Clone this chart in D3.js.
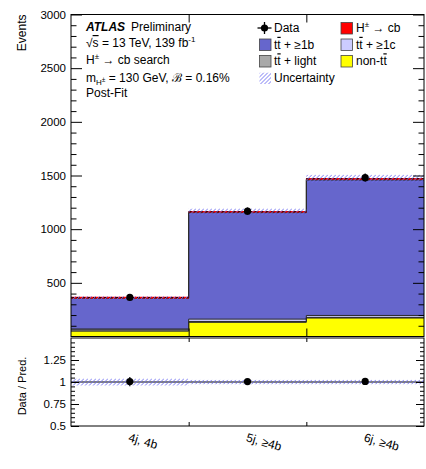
<!DOCTYPE html>
<html>
<head>
<meta charset="utf-8">
<script src="https://cdn.jsdelivr.net/npm/d3@7"></script>
<style>
  html, body { margin: 0; padding: 0; background: #fff; }
  svg { display: block; font-family: "Liberation Sans", Arial, sans-serif; }
</style>
</head>
<body>
<svg id="chart" width="426" height="469"></svg>
<script>
// Analysis regions
const categories = ["4j, 4b", "5j, \u22654b", "6j, \u22654b"];

// Post-fit yields per region (stacked bottom to top)
const nonTT   = [50, 132, 172];
const ttLight = [12, 8, 6];
const tt1c    = [8, 22, 18];
const tt1b    = [287, 992, 1262];
const hcb     = [5, 8, 12];

// Total prediction uncertainty and observed data
const uncertainty = [14, 30, 38];
const dataObs     = [364, 1168, 1480];

// Axis tick values
const mainTicks  = [500, 1000, 1500, 2000, 2500, 3000];
const ratioTicks = [0.5, 0.75, 1, 1.25];
const ratioTickLabels = ["0.5", "0.75", "1", "1.25"];

const svg = d3.select("#chart");

const left = 71, right = 424;
const mainTop = 14.5, mainBottom = 336.5;
const ratioTop = 338, ratioBottom = 426;

const xEdge = d3.scaleLinear().domain([0, categories.length]).range([left, right]);
const yMain = d3.scaleLinear().domain([0, 3000]).range([mainBottom, mainTop]);
const yRatio = d3.scaleLinear().domain([0.5, 1.5]).range([ratioBottom, ratioTop]);

const defs = svg.append("defs");
defs.append("clipPath").attr("id", "mainClip").append("rect")
  .attr("x", left).attr("y", mainTop).attr("width", right - left).attr("height", mainBottom - mainTop);

// diagonal hatching inside a rectangle, drawn as clipped line segments
let hatchId = 0;
const hatchColor = "#6e6ef2";
function hatchRect(g, x, y, w, h) {
  const id = "hclip" + (hatchId++);
  defs.append("clipPath").attr("id", id).append("rect")
    .attr("x", x).attr("y", y).attr("width", w).attr("height", h);
  const step = 4;
  const offsets = d3.range(Math.floor(x / step) * step, x + w + h + step, step);
  g.append("g").attr("clip-path", `url(#${id})`)
    .selectAll("line").data(offsets).join("line")
    .attr("x1", d => d - (h + 1)).attr("y1", y + h + 1)
    .attr("x2", d => d).attr("y2", y)
    .attr("stroke", hatchColor).attr("stroke-width", 0.9);
}

// stacked components, bottom to top
const layers = [
  { key: "nonTT", values: nonTT, color: "#ffff00" },
  { key: "ttLight", values: ttLight, color: "#a9a9a9" },
  { key: "tt1c", values: tt1c, color: "#ccccff" },
  { key: "tt1b", values: tt1b, color: "#6666cc" },
  { key: "hcb", values: hcb, color: "#ff0000" }
];
const cumul = [];
layers.forEach((l, i) => {
  cumul.push(l.values.map((v, j) => v + (i ? cumul[i - 1][j] : 0)));
});
const total = cumul[cumul.length - 1];

// step-shaped outline through bin edges
function stepPoints(vals, yScale) {
  const pts = [];
  vals.forEach((v, j) => {
    pts.push([xEdge(j), yScale(v)]);
    pts.push([xEdge(j + 1), yScale(v)]);
  });
  return pts;
}
const line = d3.line();
const binCenter = j => (xEdge(j) + xEdge(j + 1)) / 2;

const main = svg.append("g").attr("clip-path", "url(#mainClip)");

// draw cumulative areas from the top layer down
for (let i = layers.length - 1; i >= 0; i--) {
  const pts = stepPoints(cumul[i], yMain);
  const area = [[xEdge(0), yMain(0)], ...pts, [xEdge(categories.length), yMain(0)]];
  main.append("path")
    .attr("d", line(area) + "Z")
    .attr("fill", layers[i].color)
    .attr("stroke", "none");
}
// outlines of each component
for (let i = 0; i < layers.length - 1; i++) {
  main.append("path")
    .attr("d", line(stepPoints(cumul[i], yMain)))
    .attr("fill", "none").attr("stroke", "#2a2a2a").attr("stroke-width", 1);
}
// vertical edge of the full stack between regions
main.append("path")
  .attr("d", line(stepPoints(total, yMain)))
  .attr("fill", "none").attr("stroke", "#2a2a2a").attr("stroke-width", 1);

// signal band (thin red) and dashed total, per region
total.forEach((v, j) => {
  main.append("line")
    .attr("x1", xEdge(j)).attr("x2", xEdge(j + 1))
    .attr("y1", yMain(v)).attr("y2", yMain(v))
    .attr("stroke", "#ff0000").attr("stroke-width", 1.6);
  main.append("line")
    .attr("x1", xEdge(j)).attr("x2", xEdge(j + 1))
    .attr("y1", yMain(v)).attr("y2", yMain(v))
    .attr("stroke", "#000").attr("stroke-width", 0.9)
    .attr("stroke-dasharray", "3,2.5");
});

// uncertainty band
total.forEach((d, j) => {
  const y0 = yMain(d + uncertainty[j]), y1 = yMain(d - uncertainty[j]);
  hatchRect(main, xEdge(j), y0, xEdge(j + 1) - xEdge(j), y1 - y0);
});

// data points
dataObs.forEach((d, j) => {
  const e = Math.sqrt(d);
  main.append("line")
    .attr("x1", binCenter(j)).attr("x2", binCenter(j))
    .attr("y1", yMain(d - e)).attr("y2", yMain(d + e))
    .attr("stroke", "#000").attr("stroke-width", 1.2);
  main.append("circle")
    .attr("cx", binCenter(j)).attr("cy", yMain(d)).attr("r", 3.6).attr("fill", "#000");
});

// ratio panel
const ratio = svg.append("g");
ratio.append("line")
  .attr("x1", left).attr("x2", right)
  .attr("y1", yRatio(1)).attr("y2", yRatio(1))
  .attr("stroke", "#000").attr("stroke-width", 1.2);
total.forEach((d, j) => {
  const y0 = yRatio(1 + uncertainty[j] / d), y1 = yRatio(1 - uncertainty[j] / d);
  hatchRect(ratio, xEdge(j), y0, xEdge(j + 1) - xEdge(j), y1 - y0);
});
dataObs.forEach((d, j) => {
  const r = d / total[j];
  const e = Math.sqrt(d) / total[j];
  ratio.append("line")
    .attr("x1", binCenter(j)).attr("x2", binCenter(j))
    .attr("y1", yRatio(r - e)).attr("y2", yRatio(r + e))
    .attr("stroke", "#000").attr("stroke-width", 1.2);
  ratio.append("circle")
    .attr("cx", binCenter(j)).attr("cy", yRatio(r)).attr("r", 3.6).attr("fill", "#000");
});

// frames
[[mainTop, mainBottom], [ratioTop, ratioBottom]].forEach(([t, b]) => {
  svg.append("rect")
    .attr("x", left).attr("y", t).attr("width", right - left).attr("height", b - t)
    .attr("fill", "none").attr("stroke", "#000").attr("stroke-width", 1);
});

// axes
function styleAxis(g) {
  g.select(".domain").remove();
  g.selectAll(".tick line").attr("stroke", "#000").attr("stroke-width", 1);
  g.selectAll(".tick text").attr("font-size", "11.5px").attr("fill", "#000")
    .attr("font-family", "Liberation Sans, Arial, sans-serif");
}
const minorMain = d3.range(100, 3000, 100).filter(v => v % 500 !== 0);

svg.append("g").attr("transform", `translate(${left},0)`)
  .call(d3.axisLeft(yMain).tickValues(mainTicks).tickSize(-11).tickPadding(5).tickFormat(d3.format("d")))
  .call(styleAxis);
svg.append("g").attr("transform", `translate(${left},0)`)
  .call(d3.axisLeft(yMain).tickValues(minorMain).tickSize(-5.5).tickFormat(""))
  .call(styleAxis);
svg.append("g").attr("transform", `translate(${right},0)`)
  .call(d3.axisRight(yMain).tickValues(mainTicks).tickSize(-11).tickFormat(""))
  .call(styleAxis);
svg.append("g").attr("transform", `translate(${right},0)`)
  .call(d3.axisRight(yMain).tickValues(minorMain).tickSize(-5.5).tickFormat(""))
  .call(styleAxis);

const minorRatio = d3.range(0.55, 1.5, 0.05).filter(v => Math.abs(v * 4 - Math.round(v * 4)) > 1e-6);
svg.append("g").attr("transform", `translate(${left},0)`)
  .call(d3.axisLeft(yRatio).tickValues(ratioTicks).tickSize(-8).tickPadding(5)
    .tickFormat((d, i) => ratioTickLabels[i]))
  .call(styleAxis);
svg.append("g").attr("transform", `translate(${left},0)`)
  .call(d3.axisLeft(yRatio).tickValues(minorRatio).tickSize(-4).tickFormat(""))
  .call(styleAxis);
svg.append("g").attr("transform", `translate(${right},0)`)
  .call(d3.axisRight(yRatio).tickValues(ratioTicks).tickSize(-8).tickFormat(""))
  .call(styleAxis);
svg.append("g").attr("transform", `translate(${right},0)`)
  .call(d3.axisRight(yRatio).tickValues(minorRatio).tickSize(-4).tickFormat(""))
  .call(styleAxis);

const edges = d3.range(1, categories.length);
svg.append("g").attr("transform", `translate(0,${mainTop})`)
  .call(d3.axisTop(xEdge).tickValues(edges).tickSize(-8).tickFormat("")).call(styleAxis);
svg.append("g").attr("transform", `translate(0,${mainBottom})`)
  .call(d3.axisBottom(xEdge).tickValues(edges).tickSize(-8).tickFormat("")).call(styleAxis);
svg.append("g").attr("transform", `translate(0,${ratioTop})`)
  .call(d3.axisTop(xEdge).tickValues(edges).tickSize(-4).tickFormat("")).call(styleAxis);
svg.append("g").attr("transform", `translate(0,${ratioBottom})`)
  .call(d3.axisBottom(xEdge).tickValues(edges).tickSize(-4).tickFormat("")).call(styleAxis);

// category labels, rotated
categories.forEach((c, j) => {
  svg.append("text")
    .attr("transform", `translate(${binCenter(j) - 2},${441}) rotate(16)`)
    .attr("font-size", "12px").attr("fill", "#000")
    .text(c);
});

// axis titles
svg.append("text")
  .attr("transform", `translate(26,${mainTop}) rotate(-90)`)
  .attr("text-anchor", "end").attr("font-size", "12px").text("Events");
svg.append("text")
  .attr("transform", `translate(26,386) rotate(-90)`)
  .attr("text-anchor", "middle").attr("font-size", "11px").text("Data / Pred.");

// labels block
const lab = svg.append("g").attr("font-size", "12px").attr("fill", "#000");
const t0 = lab.append("text").attr("x", 86).attr("y", 31);
t0.append("tspan").attr("font-weight", "bold").attr("font-style", "italic").text("ATLAS");
t0.append("tspan").attr("dx", 6).text("Preliminary");

const t1 = lab.append("text").attr("x", 86).attr("y", 47);
t1.append("tspan").text("\u221A");
t1.append("tspan").attr("text-decoration", "overline").text("s");
t1.append("tspan").text(" = 13 TeV, 139 fb");
t1.append("tspan").attr("font-size", "8px").attr("dy", -5).text("-1");

const t2 = lab.append("text").attr("x", 86).attr("y", 64);
t2.append("tspan").text("H");
t2.append("tspan").attr("font-size", "8px").attr("dy", -5).text("\u00B1");
t2.append("tspan").attr("dy", 5).text(" \u2192 cb search");

const t3 = lab.append("text").attr("x", 86).attr("y", 82);
t3.append("tspan").text("m");
t3.append("tspan").attr("font-size", "8px").attr("dy", 3).text("H");
t3.append("tspan").attr("font-size", "6.5px").attr("dy", -3).text("\u00B1");
t3.append("tspan").attr("dy", 0).text(" = 130 GeV, \u212C = 0.16%");

lab.append("text").attr("x", 86).attr("y", 97).text("Post-Fit");

// legend
const leg = svg.append("g").attr("font-size", "12px");
function ttbar(textEl, suffix) {
  textEl.append("tspan").text("t");
  textEl.append("tspan").attr("text-decoration", "overline").text("t");
  textEl.append("tspan").text(suffix);
}
const rowY = [28, 44.5, 61, 78];
const col = [{ box: 259.5, text: 274 }, { box: 341, text: 356 }];

// Data marker
leg.append("line").attr("x1", col[0].box - 2).attr("x2", col[0].box + 12)
  .attr("y1", rowY[0]).attr("y2", rowY[0]).attr("stroke", "#000").attr("stroke-width", 1.3);
leg.append("line").attr("x1", col[0].box + 5).attr("x2", col[0].box + 5)
  .attr("y1", rowY[0] - 6).attr("y2", rowY[0] + 6).attr("stroke", "#000").attr("stroke-width", 1.3);
leg.append("circle").attr("cx", col[0].box + 5).attr("cy", rowY[0]).attr("r", 3.6).attr("fill", "#000");
leg.append("text").attr("x", col[0].text).attr("y", rowY[0] + 4.3).text("Data");

const boxes = [
  { c: 0, r: 1, color: "#6666cc", label: " + \u22651b", tt: true },
  { c: 0, r: 2, color: "#a9a9a9", label: " + light", tt: true },
  { c: 1, r: 0, color: "#ff0000", label: null },
  { c: 1, r: 1, color: "#ccccff", label: " + \u22651c", tt: true },
  { c: 1, r: 2, color: "#ffff00", label: "non-", tt: false }
];
boxes.forEach(b => {
  leg.append("rect")
    .attr("x", col[b.c].box).attr("y", rowY[b.r] - 5.5)
    .attr("width", 11.5).attr("height", 11.5)
    .attr("fill", b.color).attr("stroke", "#444").attr("stroke-width", 0.8);
  const t = leg.append("text").attr("x", col[b.c].text).attr("y", rowY[b.r] + 4.3);
  if (b.label === null) {
    t.append("tspan").text("H");
    t.append("tspan").attr("font-size", "8px").attr("dy", -5).text("\u00B1");
    t.append("tspan").attr("dy", 5).text(" \u2192 cb");
  } else if (b.tt) {
    ttbar(t, b.label);
  } else {
    t.append("tspan").text(b.label);
    ttbar(t, "");
  }
});
hatchRect(leg, col[0].box, rowY[3] - 5.5, 11.5, 11.5);
leg.append("text").attr("x", col[0].text).attr("y", rowY[3] + 4.3).text("Uncertainty");
</script>
</body>
</html>
